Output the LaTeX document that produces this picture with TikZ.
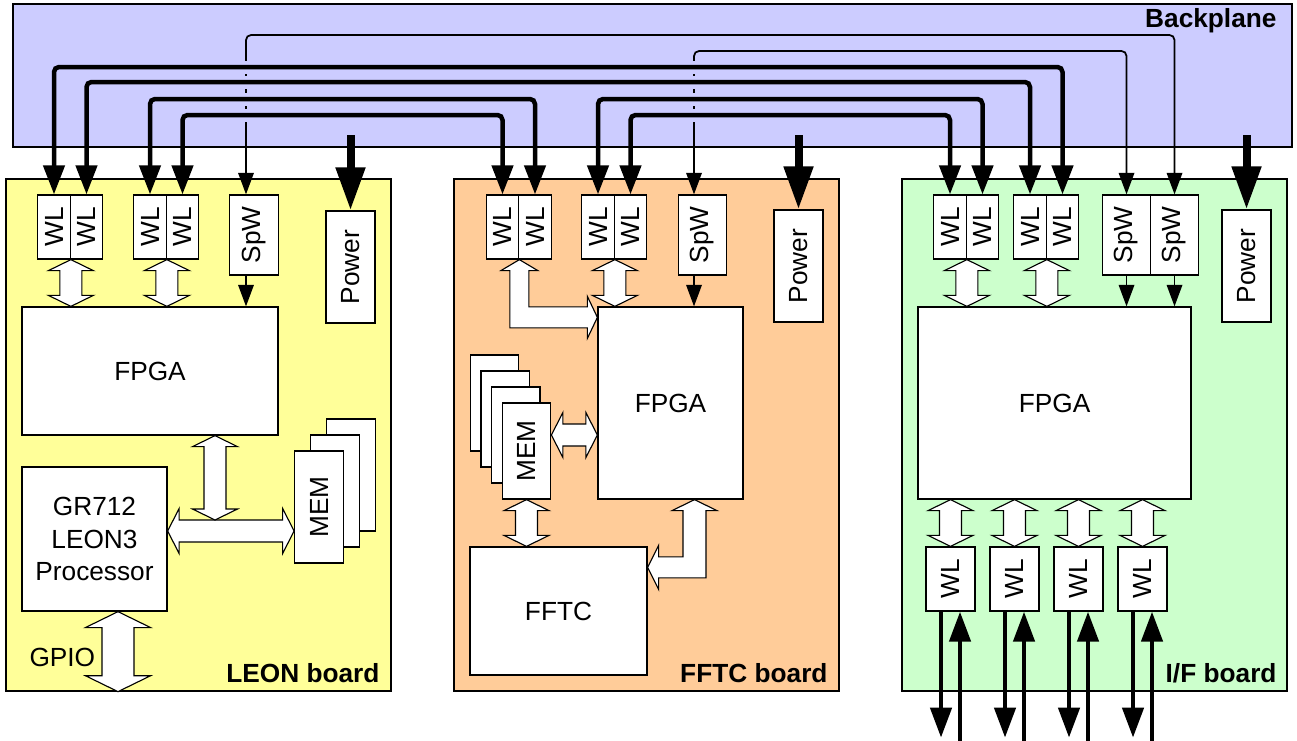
\documentclass[tikz,border=0pt]{standalone}
\usepackage{fontspec}
\setmainfont{Liberation Sans}
\usepackage{tikz}
\usetikzlibrary{arrows.meta,calc}

\definecolor{bpblue}{RGB}{204,204,255}
\definecolor{leonyel}{RGB}{255,255,153}
\definecolor{fftcorg}{RGB}{255,204,153}
\definecolor{ifgrn}{RGB}{204,255,204}

% hollow double arrows, tip to tip (#1 = size factor)
\newcommand\vbus[3][1]{%
  \draw[bus] let \p1=(#2), \p2=(#3) in
    (\x1,\y1) -- (\x1+9pt*#1,\y1-4.4pt*#1) -- (\x1+4.4pt*#1,\y1-4.4pt*#1) -- (\x1+4.4pt*#1,\y2+4.4pt*#1)
    -- (\x1+9pt*#1,\y2+4.4pt*#1) -- (\x1,\y2) -- (\x1-9pt*#1,\y2+4.4pt*#1) -- (\x1-4.4pt*#1,\y2+4.4pt*#1)
    -- (\x1-4.4pt*#1,\y1-4.4pt*#1) -- (\x1-9pt*#1,\y1-4.4pt*#1) -- cycle;}
\newcommand\hbus[2]{%
  \draw[bus] let \p1=(#1), \p2=(#2) in
    (\x1,\y1) -- (\x1+4.6pt,\y1+9pt) -- (\x1+4.6pt,\y1+4.4pt) -- (\x2-4.6pt,\y1+4.4pt)
    -- (\x2-4.6pt,\y1+9pt) -- (\x2,\y1) -- (\x2-4.6pt,\y1-9pt) -- (\x2-4.6pt,\y1-4.4pt)
    -- (\x1+4.6pt,\y1-4.4pt) -- (\x1+4.6pt,\y1-9pt) -- cycle;}

\begin{document}
\begin{tikzpicture}[x=0.4pt, y=-0.4pt,
  font=\fontsize{10.5}{13}\selectfont,
  box/.style={draw, line width=0.5pt, fill=white, inner sep=0pt},
  board/.style={draw, line width=0.5pt, minimum width=154pt, minimum height=204.8pt},
  wl/.style={box, minimum width=13pt, minimum height=25.6pt},
  wlb/.style={box, minimum width=19.6pt, minimum height=25.6pt},
  spwbox/.style={box, minimum width=19.4pt, minimum height=32pt},
  powbox/.style={box, minimum width=19.6pt, minimum height=44.8pt},
  membox/.style={box, minimum width=19.4pt},
  lbl/.style={inner sep=0pt, font=\fontsize{10.5}{13}\selectfont\bfseries},
  bus/.style={draw, line width=0.45pt, fill=white},
  wire/.style={line width=1.8pt, rounded corners=2pt, {Triangle[length=11.6pt,width=8.4pt]}-{Triangle[length=11.6pt,width=8.4pt]}},
  gap/.style={draw=bpblue, line width=5.2pt},
  spwire/.style={line width=0.7pt, rounded corners=2pt, {Triangle[length=8.6pt,width=6.2pt]}-{Triangle[length=8.6pt,width=6.2pt]}},
  spwarr/.style={line width=0.7pt, -{Triangle[length=8.6pt,width=6.2pt]}},
  pwr/.style={line width=3.2pt, -{Triangle[length=17.2pt,width=11.2pt]}},
  ioout/.style={line width=1.8pt, -{Triangle[length=12pt,width=8.4pt]}},
  ioin/.style={line width=1.8pt, {Triangle[length=12pt,width=8.4pt]}-}]
  \useasboundingbox (0,0) rectangle (1297,740);

  % backplane and boards
  \node[draw, line width=0.5pt, fill=bpblue, minimum width=511.6pt, minimum height=57.2pt] (bp) at (652.5,75.5) {};
  \node[lbl, anchor=base east] (bplbl) at (1277,27) {Backplane};
  \node[board, fill=leonyel] (leon) at (198.5,435) {};
  \node[board, fill=fftcorg] (fftc) at (646.5,435) {};
  \node[board, fill=ifgrn] (iface) at (1094.5,435) {};
  \node[lbl, anchor=base east] (leonlbl) at (380,682) {LEON board};
  \node[lbl, anchor=base east] (fftclbl) at (828,682) {FFTC board};
  \node[lbl, anchor=base east] (iflbl) at (1277,682) {I/F board};

  % LEON board
  \node[wl] (lwl1) at (54,227) {\rotatebox{90}{WL}};
  \node[wl] (lwl2) at (86.5,227) {\rotatebox{90}{WL}};
  \node[wl] (lwl3) at (150,227) {\rotatebox{90}{WL}};
  \node[wl] (lwl4) at (182.5,227) {\rotatebox{90}{WL}};
  \node[spwbox] (lspw) at (254,235) {\rotatebox{90}{SpW}};
  \node[powbox] (lpow) at (350.5,267) {\rotatebox{90}{Power}};
  \node[box, minimum width=102.4pt, minimum height=51.2pt] (lfpga) at (150,371) {FPGA};
  \node[box, minimum width=58pt, minimum height=57.6pt, align=center] (lcpu) at (94.5,539) {GR712\\LEON3\\Processor};
  \node[membox, minimum height=44.8pt] (lmem3) at (351,475) {};
  \node[membox, minimum height=44.8pt] (lmem2) at (335,491) {};
  \node[membox, minimum height=44.8pt] (lmem1) at (319,507) {\rotatebox{90}{MEM}};
  \node[inner sep=0pt, anchor=west] (gpio) at (29,657) {GPIO};

  % FFTC board
  \node[wl] (fwl1) at (502.5,227) {\rotatebox{90}{WL}};
  \node[wl] (fwl2) at (535,227) {\rotatebox{90}{WL}};
  \node[wl] (fwl3) at (598,227) {\rotatebox{90}{WL}};
  \node[wl] (fwl4) at (630.5,227) {\rotatebox{90}{WL}};
  \node[spwbox] (fspw) at (702.5,235) {\rotatebox{90}{SpW}};
  \node[powbox] (fpow) at (798.5,266) {\rotatebox{90}{Power}};
  \node[box, minimum width=58pt, minimum height=76.8pt] (ffpga) at (670.5,403) {FPGA};
  \node[membox, minimum height=38.4pt] (fmem4) at (494.5,403) {};
  \node[membox, minimum height=38.4pt] (fmem3) at (505.2,419) {};
  \node[membox, minimum height=38.4pt] (fmem2) at (515.8,435) {};
  \node[membox, minimum height=38.4pt] (fmem1) at (526.5,451) {\rotatebox{90}{MEM}};
  \node[box, minimum width=70.8pt, minimum height=51.2pt] (fftcbox) at (558.5,611) {FFTC};

  % I/F board
  \node[wl] (iwl1) at (950,227) {\rotatebox{90}{WL}};
  \node[wl] (iwl2) at (982.5,227) {\rotatebox{90}{WL}};
  \node[wl] (iwl3) at (1030,227) {\rotatebox{90}{WL}};
  \node[wl] (iwl4) at (1062.5,227) {\rotatebox{90}{WL}};
  \node[spwbox] (ispw1) at (1126.5,235) {\rotatebox{90}{SpW}};
  \node[spwbox] (ispw2) at (1174.5,235) {\rotatebox{90}{SpW}};
  \node[powbox] (ipow) at (1246.5,266) {\rotatebox{90}{Power}};
  \node[box, minimum width=109.2pt, minimum height=76.8pt] (ifpga) at (1054.5,403) {FPGA};
  \node[wlb] (iwlb1) at (950.5,579) {\rotatebox{90}{WL}};
  \node[wlb] (iwlb2) at (1014.5,579) {\rotatebox{90}{WL}};
  \node[wlb] (iwlb3) at (1078.5,579) {\rotatebox{90}{WL}};
  \node[wlb] (iwlb4) at (1142.5,579) {\rotatebox{90}{WL}};

  % backplane links: SpW first, then gaps, then WL
  \draw[spwire] ([xshift=-3.2pt]lspw.north) |- (ispw2.north |- 0,35) -- (ispw2.north);
  \draw[spwire] ([xshift=-3.4pt]fspw.north) |- (ispw1.north |- 0,51) -- (ispw1.north);
  \draw[gap] (lwl1.north |- 0,67) -- (iwl4.north |- 0,67);
  \draw[gap] (lwl2.north |- 0,82) -- (iwl3.north |- 0,82);
  \draw[gap] (lwl3.north |- 0,99) -- (fwl2.north |- 0,99);
  \draw[gap] (lwl4.north |- 0,115) -- (fwl1.north |- 0,115);
  \draw[gap] (fwl3.north |- 0,99) -- (iwl2.north |- 0,99);
  \draw[gap] (fwl4.north |- 0,115) -- (iwl1.north |- 0,115);
  \draw[wire] (lwl1.north) |- (iwl4.north |- 0,67) -- (iwl4.north);
  \draw[wire] (lwl2.north) |- (iwl3.north |- 0,82) -- (iwl3.north);
  \draw[wire] (lwl3.north) |- (fwl2.north |- 0,99) -- (fwl2.north);
  \draw[wire] (lwl4.north) |- (fwl1.north |- 0,115) -- (fwl1.north);
  \draw[wire] (fwl3.north) |- (iwl2.north |- 0,99) -- (iwl2.north);
  \draw[wire] (fwl4.north) |- (iwl1.north |- 0,115) -- (iwl1.north);

  % power feeds
  \draw[pwr] (lpow.north |- 0,135) -- (lpow.north);
  \draw[pwr] (fpow.north |- 0,135) -- (fpow.north);
  \draw[pwr] (ipow.north |- 0,135) -- (ipow.north);

  % SpW to FPGA
  \draw[spwarr] ([xshift=-3.2pt]lspw.south) -- ([xshift=-3.2pt]lspw.south |- lfpga.north);
  \draw[spwarr] ([xshift=-3.4pt]fspw.south) -- ([xshift=-3.4pt]fspw.south |- ffpga.north);
  \draw[spwarr] (ispw1.south) -- (ispw1.south |- ifpga.north);
  \draw[spwarr] (ispw2.south) -- (ispw2.south |- ifpga.north);

  % buses on the LEON board
  \vbus{lwl1.south east}{lwl1.south east |- lfpga.north}
  \vbus{lwl3.south east}{lwl3.south east |- lfpga.north}
  \hbus{lcpu.east |- 0,531}{lmem1.west |- 0,531}
  \vbus{[xshift=26pt]lfpga.south}{lcpu.east |- 0,520}
  \vbus[1.45]{[xshift=9.4pt]lcpu.south}{leon.south}

  % buses on the FFTC board
  \vbus{fwl3.south east}{fwl3.south east |- ffpga.north}
  \hbus{fmem1.east |- 0,435}{ffpga.west |- 0,435}
  \vbus{fmem1.south}{fmem1.south |- fftcbox.north}
  \draw[bus] let \p1=(fwl1.south east), \p2=([yshift=-4.4pt]ffpga.north west) in
    (\p1) -- (\x1+7.4pt,\y1-4.4pt) -- (\x1+3.8pt,\y1-4.4pt) -- (\x1+3.8pt,\y2+4.2pt)
    -- (\x2-4pt,\y2+4.2pt) -- (\x2-4pt,\y2+8.4pt) -- (\p2) -- (\x2-4pt,\y2-8.4pt)
    -- (\x2-4pt,\y2-4.2pt) -- (\x1-3.8pt,\y2-4.2pt) -- (\x1-3.8pt,\y1-4.4pt) -- (\x1-7.4pt,\y1-4.4pt) -- cycle;
  \draw[bus] let \p1=([xshift=9.6pt]ffpga.south), \p2=([yshift=-8.4pt]fftcbox.north east) in
    (\p1) -- (\x1+9pt,\y1-4.4pt) -- (\x1+4.6pt,\y1-4.4pt) -- (\x1+4.6pt,\y2-4.2pt)
    -- (\x2+4.4pt,\y2-4.2pt) -- (\x2+4.4pt,\y2-8.8pt) -- (\p2) -- (\x2+4.4pt,\y2+8.8pt)
    -- (\x2+4.4pt,\y2+4.2pt) -- (\x1-4.6pt,\y2+4.2pt) -- (\x1-4.6pt,\y1-4.4pt) -- (\x1-9pt,\y1-4.4pt) -- cycle;

  % buses on the I/F board
  \vbus{iwl1.south east}{iwl1.south east |- ifpga.north}
  \vbus{iwl3.south east}{iwl3.south east |- ifpga.north}
  \vbus{ifpga.south -| iwlb1.north}{iwlb1.north}
  \vbus{ifpga.south -| iwlb2.north}{iwlb2.north}
  \vbus{ifpga.south -| iwlb3.north}{iwlb3.north}
  \vbus{ifpga.south -| iwlb4.north}{iwlb4.north}

  % external links
  \draw[ioout] ([xshift=-3.8pt]iwlb1.south) -- ++(0,126);
  \draw[ioin] ([xshift=3.8pt]iwlb1.south) -- ++(0,129);
  \draw[ioout] ([xshift=-3.8pt]iwlb2.south) -- ++(0,126);
  \draw[ioin] ([xshift=3.8pt]iwlb2.south) -- ++(0,129);
  \draw[ioout] ([xshift=-3.8pt]iwlb3.south) -- ++(0,126);
  \draw[ioin] ([xshift=3.8pt]iwlb3.south) -- ++(0,129);
  \draw[ioout] ([xshift=-3.8pt]iwlb4.south) -- ++(0,126);
  \draw[ioin] ([xshift=3.8pt]iwlb4.south) -- ++(0,129);
\end{tikzpicture}
\end{document}
